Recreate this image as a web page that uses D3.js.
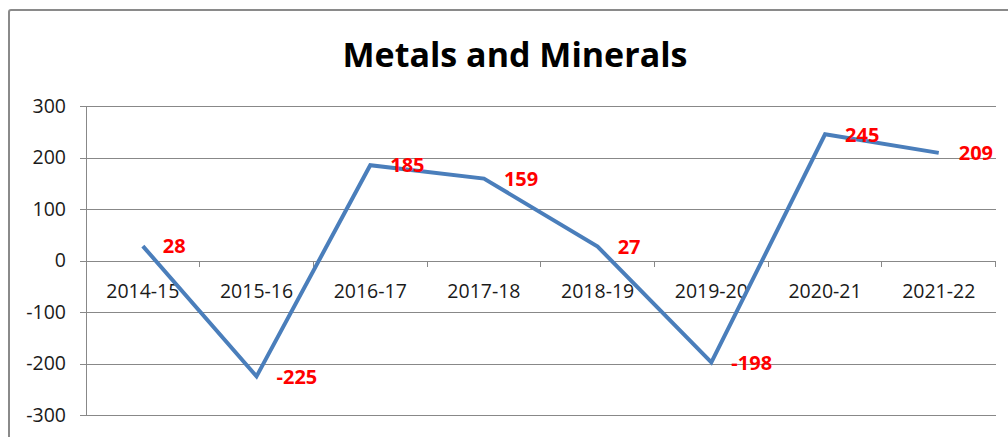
<!DOCTYPE html>
<html>
<head>
<meta charset="utf-8">
<script src="https://cdnjs.cloudflare.com/ajax/libs/d3/7.8.5/d3.min.js"></script>
<style>
  html, body { margin: 0; padding: 0; background: #fff; }
  svg { display: block; }
</style>
</head>
<body>
<div id="chart"></div>
<script>
// --- DATA ---
const years = ['2014-15', '2015-16', '2016-17', '2017-18', '2018-19', '2019-20', '2020-21', '2021-22'];
const values = [28, -225, 185, 159, 27, -198, 245, 209];
const yTicks = [-300, -200, -100, 0, 100, 200, 300];
const chartTitle = 'Metals and Minerals';

// --- DIMENSIONS ---
const width = 1008;
const height = 437;
const plot = {left: 86, right: 995.6, top: 106, bottom: 415};

const svg = d3.select('#chart')
  .append('svg')
  .attr('width', width)
  .attr('height', height);

// outer chart border (runs off the right and bottom edges)
svg.append('rect')
  .attr('x', 9)
  .attr('y', 10)
  .attr('width', 1100)
  .attr('height', 600)
  .attr('rx', 2)
  .style('fill', 'none')
  .style('stroke', '#8a8a8a')
  .style('stroke-width', 2);

// --- SCALES ---
const x = d3.scaleBand()
  .domain(years)
  .range([plot.left, plot.right])
  .paddingInner(0)
  .paddingOuter(0);

const y = d3.scaleLinear()
  .domain([-300, 300])
  .range([plot.bottom, plot.top]);

const font = "'Open Sans', sans-serif";

// title
const title = svg.append('text')
  .attr('x', 515)
  .attr('y', 67)
  .attr('text-anchor', 'middle')
  .style('font-family', font)
  .style('font-weight', '700')
  .style('font-size', '34px')
  .style('fill', '#000')
  .text(chartTitle);
if (title.node().getComputedTextLength() > 347) {
  title.attr('textLength', 347).attr('lengthAdjust', 'spacingAndGlyphs');
}

// gridlines + y axis labels (plain hyphen for negatives, as in the original)
const yAxis = d3.axisLeft(y)
  .tickValues(yTicks)
  .tickSize(plot.right - plot.left + 6)
  .tickPadding(14)
  .tickFormat(d => String(d));

const yG = svg.append('g')
  .attr('transform', `translate(${plot.right},0)`)
  .call(yAxis);
yG.select('.domain').remove();
yG.selectAll('.tick line')
  .style('stroke', '#888')
  .style('stroke-width', 1)
  .attr('shape-rendering', 'crispEdges');
yG.selectAll('.tick text')
  .style('font-family', font)
  .style('font-size', '19.5px')
  .style('fill', '#1a1a1a');

// vertical axis line
svg.append('line')
  .attr('x1', plot.left).attr('x2', plot.left)
  .attr('y1', plot.top).attr('y2', plot.bottom)
  .style('stroke', '#888')
  .attr('shape-rendering', 'crispEdges');

// category axis at zero with tick marks at band edges
const edges = years.map(d => x(d)).concat([plot.right]);
svg.append('g')
  .selectAll('line')
  .data(edges)
  .enter()
  .append('line')
  .attr('x1', d => d).attr('x2', d => d)
  .attr('y1', y(0)).attr('y2', y(0) + 6)
  .style('stroke', '#888')
  .attr('shape-rendering', 'crispEdges');

svg.append('g')
  .selectAll('text')
  .data(years)
  .enter()
  .append('text')
  .attr('x', d => x(d) + x.bandwidth() / 2)
  .attr('y', y(0) + 37)
  .attr('text-anchor', 'middle')
  .style('font-family', font)
  .style('font-size', '19.5px')
  .style('fill', '#1a1a1a')
  .text(d => d);

// --- LINE ---
const line = d3.line()
  .x((d, i) => x(years[i]) + x.bandwidth() / 2)
  .y(d => y(d));

svg.append('path')
  .datum(values)
  .attr('d', line)
  .style('fill', 'none')
  .style('stroke', '#4a7ebb')
  .style('stroke-width', 4)
  .style('stroke-linejoin', 'miter');

// data labels
svg.append('g')
  .selectAll('text')
  .data(values)
  .enter()
  .append('text')
  .attr('x', (d, i) => x(years[i]) + x.bandwidth() / 2 + 20)
  .attr('y', d => y(d))
  .attr('dy', '0.36em')
  .style('font-family', font)
  .style('font-weight', '700')
  .style('font-size', '20px')
  .style('fill', '#ff0000')
  .text(d => d);
</script>
</body>
</html>
